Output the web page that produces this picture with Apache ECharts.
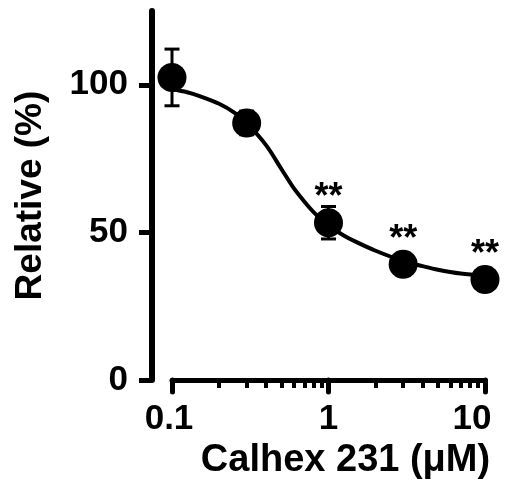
<!DOCTYPE html>
<html>
<head>
<meta charset="utf-8">
<script src="https://cdn.jsdelivr.net/npm/echarts@6/dist/echarts.min.js"></script>
<style>
html,body{margin:0;padding:0;background:#fff;}
#chart{width:507px;height:485px;}
</style>
</head>
<body>
<div id="chart"></div>
<script>
// ---- data ----
const doseX = [0.1, 0.3, 1, 3, 10];
const meanY = [102.5, 87.1, 53.3, 39.2, 34.1];
const semY = [9.6, 4.0, 5.5, 3.8, 3.8];
const sigLabels = ['', '', '**', '**', '**'];
const fitX = [0.1, 0.125, 0.15, 0.2, 0.25, 0.3, 0.4, 0.5, 0.6, 0.7, 0.8, 1, 1.25, 1.5, 2, 3, 4, 5, 7, 10];
const fitY = [98.5, 97.5, 96.2, 93.6, 90.6, 87.0, 79.5, 71.5, 65.0, 60.5, 57.0, 52.3, 49.0, 46.8, 43.8, 40.3, 38.6, 37.4, 36.1, 35.3];
const xMajorTicks = [0.1, 1, 10];
const xMinorTicks = [0.2, 0.3, 0.4, 0.5, 0.6, 0.7, 0.8, 0.9, 2, 3, 4, 5, 6, 7, 8, 9];
const yTicks = [0, 50, 100];
const xTitle = 'Calhex 231 (μM)';
const yTitle = 'Relative (%)';

const FONT = '"Liberation Sans", Arial, Helvetica, sans-serif';

const pointData = doseX.map((x, i) => ({
  value: [x, meanY[i]],
  label: { show: sigLabels[i] !== '', formatter: sigLabels[i] }
}));
const errData = doseX.map((x, i) => [x, meanY[i], semY[i]]);
const fitData = fitX.map((x, i) => [x, fitY[i]]);

const chart = echarts.init(document.getElementById('chart'), null, { renderer: 'canvas' });
chart.setOption({
  backgroundColor: '#fff',
  animation: false,
  grid: { left: 172, right: 22, top: 11, bottom: 104, containLabel: false },
  xAxis: [{
    type: 'log', logBase: 10, min: 0.1, max: 10, position: 'bottom', offset: 2,
    name: xTitle, nameLocation: 'middle', nameGap: 54,
    nameTextStyle: { fontFamily: FONT, fontWeight: 'bold', fontSize: 38, color: '#000', padding: [0, 0, 0, 34] },
    axisLine: { show: true, lineStyle: { color: '#000', width: 5, cap: 'round' } },
    axisTick: { show: true, customValues: xMajorTicks, length: 12, lineStyle: { color: '#000', width: 5, cap: 'round' } },
    minorTick: { show: false },
    splitLine: { show: false },
    axisLabel: {
      show: true, customValues: xMajorTicks, margin: 20,
      fontFamily: FONT, fontWeight: 'bold', fontSize: 35, color: '#000',
      formatter: function (v) { return v === 10 ? '{r|10}' : (v === 0.1 ? '{l|0.1}' : String(v)); },
      rich: {
        r: { fontFamily: FONT, fontWeight: 'bold', fontSize: 35, color: '#000', padding: [0, 26, 0, 0] },
        l: { fontFamily: FONT, fontWeight: 'bold', fontSize: 35, color: '#000', padding: [0, 6, 0, 0] }
      }
    }
  }, {
    type: 'log', logBase: 10, min: 0.1, max: 10, position: 'bottom', offset: 2,
    axisLine: { show: false },
    axisTick: { show: true, customValues: xMinorTicks, length: 6, lineStyle: { color: '#000', width: 4 } },
    axisLabel: { show: false },
    splitLine: { show: false }
  }],
  yAxis: {
    type: 'value', min: 0, max: 125, position: 'left', offset: 20,
    name: yTitle, nameLocation: 'middle', nameGap: 103,
    nameTextStyle: { fontFamily: FONT, fontWeight: 'bold', fontSize: 37, color: '#000' },
    axisLine: { show: true, lineStyle: { color: '#000', width: 6, cap: 'round' } },
    axisTick: { show: true, customValues: yTicks, length: 13, lineStyle: { color: '#000', width: 5 } },
    axisLabel: { show: true, customValues: yTicks, margin: 24, fontFamily: FONT, fontWeight: 'bold', fontSize: 35, color: '#000' },
    splitLine: { show: false }
  },
  series: [{
    type: 'line', data: fitData, xAxisIndex: 0, smooth: 0.3, showSymbol: false, symbol: 'none',
    lineStyle: { color: '#000', width: 4 }, z: 2
  }, {
    type: 'custom', xAxisIndex: 0, data: errData, encode: { x: 0, y: 1 }, z: 3,
    renderItem: function (params, api) {
      const x = api.value(0), m = api.value(1), e = api.value(2);
      const top = api.coord([x, m + e]);
      const bot = api.coord([x, m - e]);
      const hw = 7.5;
      const st = { stroke: '#000', lineWidth: 3 };
      return {
        type: 'group',
        children: [
          { type: 'line', shape: { x1: top[0], y1: top[1], x2: bot[0], y2: bot[1] }, style: st },
          { type: 'line', shape: { x1: top[0] - hw, y1: top[1], x2: top[0] + hw, y2: top[1] }, style: st },
          { type: 'line', shape: { x1: bot[0] - hw, y1: bot[1], x2: bot[0] + hw, y2: bot[1] }, style: st }
        ]
      };
    }
  }, {
    type: 'scatter', xAxisIndex: 0, data: pointData, symbol: 'circle', symbolSize: 29, z: 4,
    itemStyle: { color: '#000', opacity: 1 },
    label: {
      position: 'top', distance: -8, opacity: 1,
      fontFamily: FONT, fontWeight: 'bold', fontSize: 36, color: '#000'
    }
  }]
});
</script>
</body>
</html>
